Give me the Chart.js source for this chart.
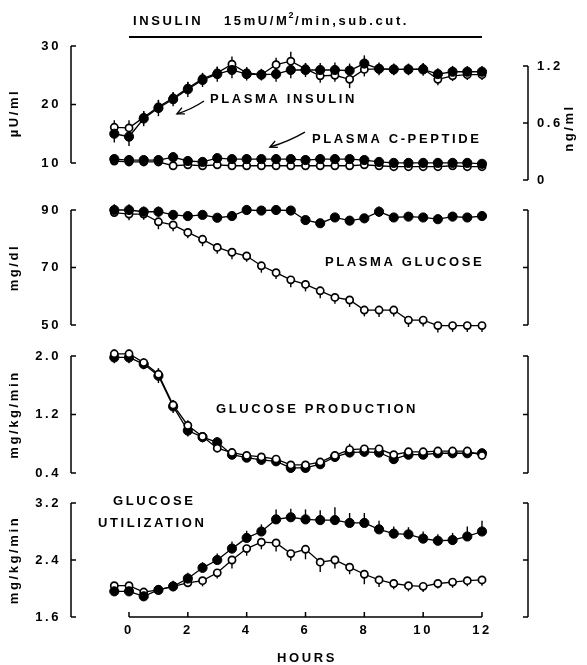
<!DOCTYPE html>
<html><head><meta charset="utf-8">
<script src="https://cdn.jsdelivr.net/npm/chart.js@4.4.1/dist/chart.umd.min.js"></script>
<style>
html,body{margin:0;padding:0;background:#fff;}
#wrap{position:relative;width:587px;height:665px;overflow:hidden;}
#wrap canvas{position:absolute;left:0;top:0;}
</style></head><body>
<div id="wrap">
<canvas id="c1" width="587" height="665"></canvas>
<canvas id="c2" width="587" height="665"></canvas>
<canvas id="c3" width="587" height="665"></canvas>
<canvas id="c4" width="587" height="665"></canvas>
</div>
<script>
// ---------- data ----------
const hours = [-0.5,0,0.5,1,1.5,2,2.5,3,3.5,4,4.5,5,5.5,6,6.5,7,7.5,8,8.5,9,9.5,10,10.5,11,11.5,12];

const insulinFilled    = [15.0,14.5,17.6,19.4,20.9,22.6,24.2,25.2,25.9,25.2,25.1,25.2,25.9,25.9,25.9,25.9,25.8,27.0,26.1,26.0,26.0,26.0,25.2,25.6,25.6,25.6];
const insulinOpen      = [16.1,16.0,17.8,19.6,21.1,22.8,24.4,25.4,26.9,25.4,25.1,26.8,27.4,26.1,24.9,25.0,24.3,26.0,26.1,26.0,26.0,26.1,24.3,24.9,25.1,25.1];
const insulinFilledSem = [1.5,1.6,1.3,1.4,1.2,1.3,1.2,1.3,1.4,1.1,1.0,1.3,1.4,1.2,1.2,1.3,1.2,1.4,1.1,1.0,1.0,1.1,1.0,1.0,1.0,1.0];
const insulinOpenSem   = [1.2,1.3,1.0,1.1,1.0,1.0,1.0,1.0,1.3,1.0,0.9,1.2,1.6,1.0,1.2,1.1,1.5,1.2,0.9,0.9,0.9,0.9,1.0,0.9,0.9,0.9];

const cpepFilled    = [0.22,0.21,0.21,0.21,0.24,0.20,0.19,0.23,0.22,0.22,0.22,0.22,0.22,0.21,0.22,0.22,0.22,0.21,0.19,0.18,0.18,0.18,0.18,0.18,0.18,0.17];
const cpepOpen      = [0.20,0.19,0.19,0.19,0.15,0.16,0.15,0.16,0.15,0.15,0.15,0.15,0.15,0.15,0.15,0.15,0.15,0.16,0.15,0.14,0.14,0.14,0.14,0.15,0.14,0.14];
const cpepFilledSem = [0.05,0.05,0.04,0.05,0.05,0.05,0.04,0.05,0.04,0.05,0.04,0.05,0.04,0.05,0.05,0.05,0.04,0.05,0.04,0.04,0.04,0.04,0.04,0.04,0.04,0.04];
const cpepOpenSem   = [0.03,0.03,0.03,0.03,0.03,0.03,0.03,0.03,0.03,0.03,0.03,0.03,0.03,0.03,0.03,0.03,0.03,0.03,0.03,0.03,0.03,0.03,0.03,0.03,0.03,0.03];

const glucoseFilled    = [90.0,90.0,89.4,89.4,88.3,87.9,88.3,87.3,87.9,90.0,89.8,90.0,89.8,86.5,85.4,87.4,86.3,87.1,89.4,87.4,87.7,87.4,86.8,87.7,87.4,87.9];
const glucoseOpen      = [89.1,88.6,88.6,85.9,84.8,82.2,79.8,77.0,75.3,74.0,70.6,68.2,65.7,64.1,61.9,59.6,58.7,55.2,55.2,55.2,51.7,51.7,49.8,49.8,49.8,49.8];
const glucoseFilledSem = [2.0,2.0,1.8,1.8,1.6,1.2,1.4,1.0,1.3,1.6,1.2,1.5,1.2,1.2,1.0,1.4,1.0,1.2,1.8,1.0,1.2,1.0,1.0,1.2,1.0,1.2];
const glucoseOpenSem   = [1.5,2.2,2.0,2.6,2.2,2.0,2.4,2.2,2.4,2.0,2.4,2.2,2.6,2.4,2.6,2.2,2.4,2.2,2.4,2.2,2.4,2.2,2.4,2.2,2.2,2.2];

const productionFilled    = [1.98,1.98,1.89,1.73,1.31,0.98,0.89,0.82,0.65,0.61,0.58,0.56,0.47,0.47,0.52,0.62,0.68,0.69,0.68,0.59,0.65,0.65,0.67,0.67,0.67,0.67];
const productionOpen      = [2.03,2.03,1.91,1.75,1.33,1.05,0.90,0.74,0.68,0.64,0.62,0.59,0.51,0.51,0.55,0.64,0.72,0.73,0.73,0.65,0.69,0.69,0.70,0.70,0.70,0.64];
const productionFilledSem = [0.08,0.08,0.07,0.10,0.09,0.08,0.07,0.07,0.06,0.06,0.06,0.06,0.06,0.06,0.06,0.07,0.06,0.06,0.06,0.06,0.06,0.06,0.06,0.06,0.06,0.06];
const productionOpenSem   = [0.06,0.06,0.06,0.08,0.07,0.07,0.06,0.06,0.05,0.05,0.05,0.05,0.05,0.05,0.05,0.06,0.08,0.05,0.05,0.05,0.05,0.05,0.05,0.05,0.05,0.05];

const utilizationFilled    = [1.96,1.96,1.89,1.98,2.03,2.14,2.29,2.40,2.56,2.71,2.80,2.97,3.00,2.97,2.96,2.96,2.92,2.92,2.83,2.77,2.76,2.70,2.67,2.68,2.73,2.80];
const utilizationOpen      = [2.04,2.04,1.95,1.98,2.03,2.08,2.11,2.22,2.40,2.56,2.65,2.64,2.49,2.55,2.37,2.40,2.30,2.20,2.12,2.07,2.04,2.03,2.07,2.09,2.11,2.12];
const utilizationFilledSem = [0.06,0.07,0.05,0.06,0.08,0.08,0.08,0.09,0.10,0.10,0.10,0.14,0.12,0.14,0.14,0.18,0.14,0.14,0.12,0.10,0.10,0.10,0.09,0.10,0.14,0.15];
const utilizationOpenSem   = [0.06,0.06,0.05,0.06,0.07,0.06,0.08,0.08,0.12,0.10,0.10,0.12,0.10,0.14,0.14,0.12,0.10,0.14,0.10,0.08,0.08,0.08,0.07,0.08,0.08,0.08];

const insulinTicks = [10,20,30];
const cpepTicks = [0,0.6,1.2];
const cpepTickLabels = ['0','0.6','1.2'];
const glucoseTicks = [50,70,90];
const productionTicks = [0.4,1.2,2.0];
const utilizationTicks = [1.6,2.4,3.2];
const hourTicks = [0,2,4,6,8,10,12];

// ---------- styling / layout ----------
const FAM = '"Liberation Sans", Arial, Helvetica, sans-serif';
const FONT = 'bold 13px ' + FAM;
const SPACING = '2.6px';
Chart.defaults.font.family = FAM;
Chart.defaults.font.size = 13;
Chart.defaults.font.weight = 'bold';
Chart.defaults.color = '#000';

const X_MIN = -1.972, X_MAX = 13.564;
const LEFT_W = 71, RIGHT_W = 59;

function series(vals){ return hours.map((h,i)=>({x:h, y:vals[i]})); }
function filledDs(vals, sem, dir, axis){
  return {data:series(vals), sem:sem, errDir:dir, yAxisID:axis||'y',
    borderColor:'#000', borderWidth:1.3, pointRadius:4.6, pointHoverRadius:4.6,
    pointBackgroundColor:'#000', pointBorderColor:'#000', pointBorderWidth:1, tension:0, clip:false};
}
function openDs(vals, sem, dir, axis){
  return {data:series(vals), sem:sem, errDir:dir, yAxisID:axis||'y',
    borderColor:'#000', borderWidth:1.3, pointRadius:3.6, pointHoverRadius:3.6,
    pointBackgroundColor:'#fff', pointBorderColor:'#000', pointBorderWidth:1.7, tension:0, clip:false};
}

function drawText(ctx, t, x, y, align, font){
  ctx.font = font || FONT;
  ctx.textAlign = align || 'left';
  ctx.textBaseline = 'middle';
  ctx.fillStyle = '#000';
  ctx.fillText(t, x, y);
}
function bracket(ctx, scale, x, dir, ticks){
  const top = scale.getPixelForValue(Math.max(...ticks));
  const bot = scale.getPixelForValue(Math.min(...ticks));
  ctx.beginPath();
  ctx.moveTo(x, top); ctx.lineTo(x, bot);
  ticks.forEach(t=>{ const y = scale.getPixelForValue(t); ctx.moveTo(x, y); ctx.lineTo(x + dir*5, y); });
  ctx.stroke();
}
function arrow(ctx, x1, y1, x2, y2){
  ctx.beginPath(); ctx.moveTo(x1,y1); ctx.quadraticCurveTo((x1+x2)/2+1,(y1+y2)/2+2,x2,y2); ctx.stroke();
  const a = Math.atan2(y2-y1, x2-x1), L = 8;
  ctx.beginPath();
  ctx.moveTo(x2 - L*Math.cos(a-0.45), y2 - L*Math.sin(a-0.45));
  ctx.lineTo(x2, y2);
  ctx.lineTo(x2 - L*Math.cos(a+0.45), y2 - L*Math.sin(a+0.45));
  ctx.stroke();
}

function makePlugin(cfg){
  return {
    id: 'panel' + cfg.name,
    beforeDraw(chart){ chart.ctx.letterSpacing = SPACING; },
    beforeDatasetsDraw(chart){
      const ctx = chart.ctx; ctx.save();
      ctx.strokeStyle = '#000'; ctx.lineWidth = 1.4;
      chart.data.datasets.forEach((ds, i)=>{
        const meta = chart.getDatasetMeta(i);
        const ys = chart.scales[meta.yAxisID];
        ds.data.forEach((p, j)=>{
          const el = meta.data[j], e = ds.sem[j];
          const up = ds.errDir !== 'down' ? ys.getPixelForValue(p.y + e) : el.y;
          const dn = ds.errDir !== 'up' ? ys.getPixelForValue(p.y - e) : el.y;
          ctx.beginPath(); ctx.moveTo(el.x, up); ctx.lineTo(el.x, dn); ctx.stroke();
        });
      });
      ctx.restore();
    },
    afterDraw(chart){
      const ctx = chart.ctx, ca = chart.chartArea, xs = chart.scales.x;
      ctx.save();
      ctx.letterSpacing = SPACING;
      ctx.strokeStyle = '#000'; ctx.lineWidth = 1.5;
      bracket(ctx, chart.scales.y, ca.left, 1, cfg.leftTicks);
      bracket(ctx, chart.scales[cfg.rightId], ca.right, -1, cfg.rightTicks);
      if (cfg.xAxis){
        const y = chart.scales.y.getPixelForValue(cfg.leftTicks[0]);
        const x0 = xs.getPixelForValue(hourTicks[0]), x1 = xs.getPixelForValue(hourTicks[hourTicks.length-1]);
        ctx.beginPath(); ctx.moveTo(x0, y); ctx.lineTo(x1, y);
        hourTicks.forEach(h=>{ const x = xs.getPixelForValue(h); ctx.moveTo(x, y); ctx.lineTo(x, y-5); });
        ctx.stroke();
      }
      if (cfg.infusion){
        ctx.lineWidth = 2;
        ctx.beginPath();
        ctx.moveTo(xs.getPixelForValue(0), 37); ctx.lineTo(xs.getPixelForValue(12), 37); ctx.stroke();
        drawText(ctx, 'INSULIN', 133, 21);
        let x = 224;
        ctx.font = FONT; drawText(ctx, '15mU/M', x, 21); x += ctx.measureText('15mU/M').width - 1;
        drawText(ctx, '2', x, 16, 'left', 'bold 9px ' + FAM); ctx.font = 'bold 9px ' + FAM; x += ctx.measureText('2').width - 1;
        drawText(ctx, '/min,sub.cut.', x, 21);
      }
      ctx.lineWidth = 1.4;
      (cfg.arrows||[]).forEach(a=>{
        const ys = chart.scales[a.axis];
        arrow(ctx, xs.getPixelForValue(a.from[0]), ys.getPixelForValue(a.from[1]),
                   xs.getPixelForValue(a.to[0]), ys.getPixelForValue(a.to[1]));
      });
      (cfg.texts||[]).forEach(t=>{
        if (t.rot){
          ctx.save(); ctx.translate(t.x, t.y); ctx.rotate(-Math.PI/2);
          drawText(ctx, t.t, 0, 0, 'center'); ctx.restore();
        } else drawText(ctx, t.t, t.x, t.y, t.align);
      });
      ctx.restore();
    }
  };
}

function yScale(min, max, ticks, labels, title, fmt){
  return {
    type:'linear', position:'left', min:min, max:max,
    afterBuildTicks: s => { s.ticks = ticks.map(v=>({value:v})); },
    afterFit: s => { s.width = LEFT_W; },
    grid:{display:false, drawTicks:false}, border:{display:false},
    ticks:{autoSkip:false, padding:10, callback:(v)=>{ const i = ticks.indexOf(v); return labels ? labels[i] : (fmt ? v.toFixed(1) : String(v)); }},
    title:{display:true, text:title, padding:{top:7,bottom:0}}
  };
}
function xScale(show){
  return {
    type:'linear', min:X_MIN, max:X_MAX, display:show,
    afterBuildTicks: s => { s.ticks = hourTicks.map(v=>({value:v})); },
    afterFit: s => { s.height = show ? 48 : 0; },
    grid:{display:false, drawTicks:false}, border:{display:false},
    ticks:{autoSkip:false, maxRotation:0, padding:6, callback:v=>String(v)}
  };
}
const baseOpts = {responsive:false, animation:false, events:[], plugins:{legend:{display:false}, tooltip:{enabled:false}}};

// Panel 1: insulin + C-peptide
new Chart(document.getElementById('c1'), {
  type:'line',
  data:{datasets:[
    filledDs(cpepFilled, cpepFilledSem, 'both', 'y2'),
    openDs(cpepOpen, cpepOpenSem, 'both', 'y2'),
    filledDs(insulinFilled, insulinFilledSem, 'both', 'y'),
    openDs(insulinOpen, insulinOpenSem, 'both', 'y')
  ]},
  options:Object.assign({}, baseOpts, {
    layout:{padding:{top:46, bottom:485, left:0, right:0}},
    scales:{
      x:xScale(false),
      y:yScale(7.094, 30, insulinTicks, null, 'µU/ml', false),
      y2:{type:'linear', position:'right', min:0, max:1.4105,
        afterBuildTicks: s => { s.ticks = cpepTicks.map(v=>({value:v})); },
        afterFit: s => { s.width = RIGHT_W; },
        grid:{display:false, drawTicks:false}, border:{display:false},
        ticks:{autoSkip:false, padding:9, callback:(v)=>cpepTickLabels[cpepTicks.indexOf(v)]}}
    }
  }),
  plugins:[makePlugin({name:1, leftTicks:insulinTicks, rightId:'y2', rightTicks:cpepTicks, infusion:true,
    arrows:[{axis:'y', from:[2.55,20.6], to:[1.63,18.4]}, {axis:'y2', from:[5.98,0.505], to:[4.79,0.347]}],
    texts:[{t:'PLASMA INSULIN', x:210, y:99}, {t:'PLASMA C-PEPTIDE', x:312, y:139}, {t:'ng/ml', x:569, y:128, rot:true}]})]
});

// Panel 2: plasma glucose
new Chart(document.getElementById('c2'), {
  type:'line',
  data:{datasets:[
    filledDs(glucoseFilled, glucoseFilledSem, 'both'),
    openDs(glucoseOpen, glucoseOpenSem, 'down')
  ]},
  options:Object.assign({}, baseOpts, {
    layout:{padding:{top:210, bottom:340, left:0, right:RIGHT_W}},
    scales:{ x:xScale(false), y:yScale(50, 90, glucoseTicks, null, 'mg/dl', false) }
  }),
  plugins:[makePlugin({name:2, leftTicks:glucoseTicks, rightId:'y', rightTicks:glucoseTicks,
    texts:[{t:'PLASMA GLUCOSE', x:325, y:262}]})]
});

// Panel 3: glucose production
new Chart(document.getElementById('c3'), {
  type:'line',
  data:{datasets:[
    openDs(productionOpen, productionOpenSem, 'both'),
    filledDs(productionFilled, productionFilledSem, 'both')
  ]},
  options:Object.assign({}, baseOpts, {
    layout:{padding:{top:356, bottom:192, left:0, right:RIGHT_W}},
    scales:{ x:xScale(false), y:yScale(0.4, 2.0, productionTicks, null, 'mg/kg/min', true) }
  }),
  plugins:[makePlugin({name:3, leftTicks:productionTicks, rightId:'y', rightTicks:productionTicks,
    texts:[{t:'GLUCOSE PRODUCTION', x:216, y:409}]})]
});

// Panel 4: glucose utilization
new Chart(document.getElementById('c4'), {
  type:'line',
  data:{datasets:[
    filledDs(utilizationFilled, utilizationFilledSem, 'up'),
    openDs(utilizationOpen, utilizationOpenSem, 'down')
  ]},
  options:Object.assign({}, baseOpts, {
    layout:{padding:{top:503, bottom:0, left:0, right:RIGHT_W}},
    scales:{ x:xScale(true), y:yScale(1.6, 3.2, utilizationTicks, null, 'mg/kg/min', true) }
  }),
  plugins:[makePlugin({name:4, leftTicks:utilizationTicks, rightId:'y', rightTicks:utilizationTicks, xAxis:true,
    texts:[{t:'GLUCOSE', x:113, y:501}, {t:'UTILIZATION', x:98, y:523}, {t:'HOURS', x:307, y:658, align:'center'}]})]
});
</script>
</body></html>
